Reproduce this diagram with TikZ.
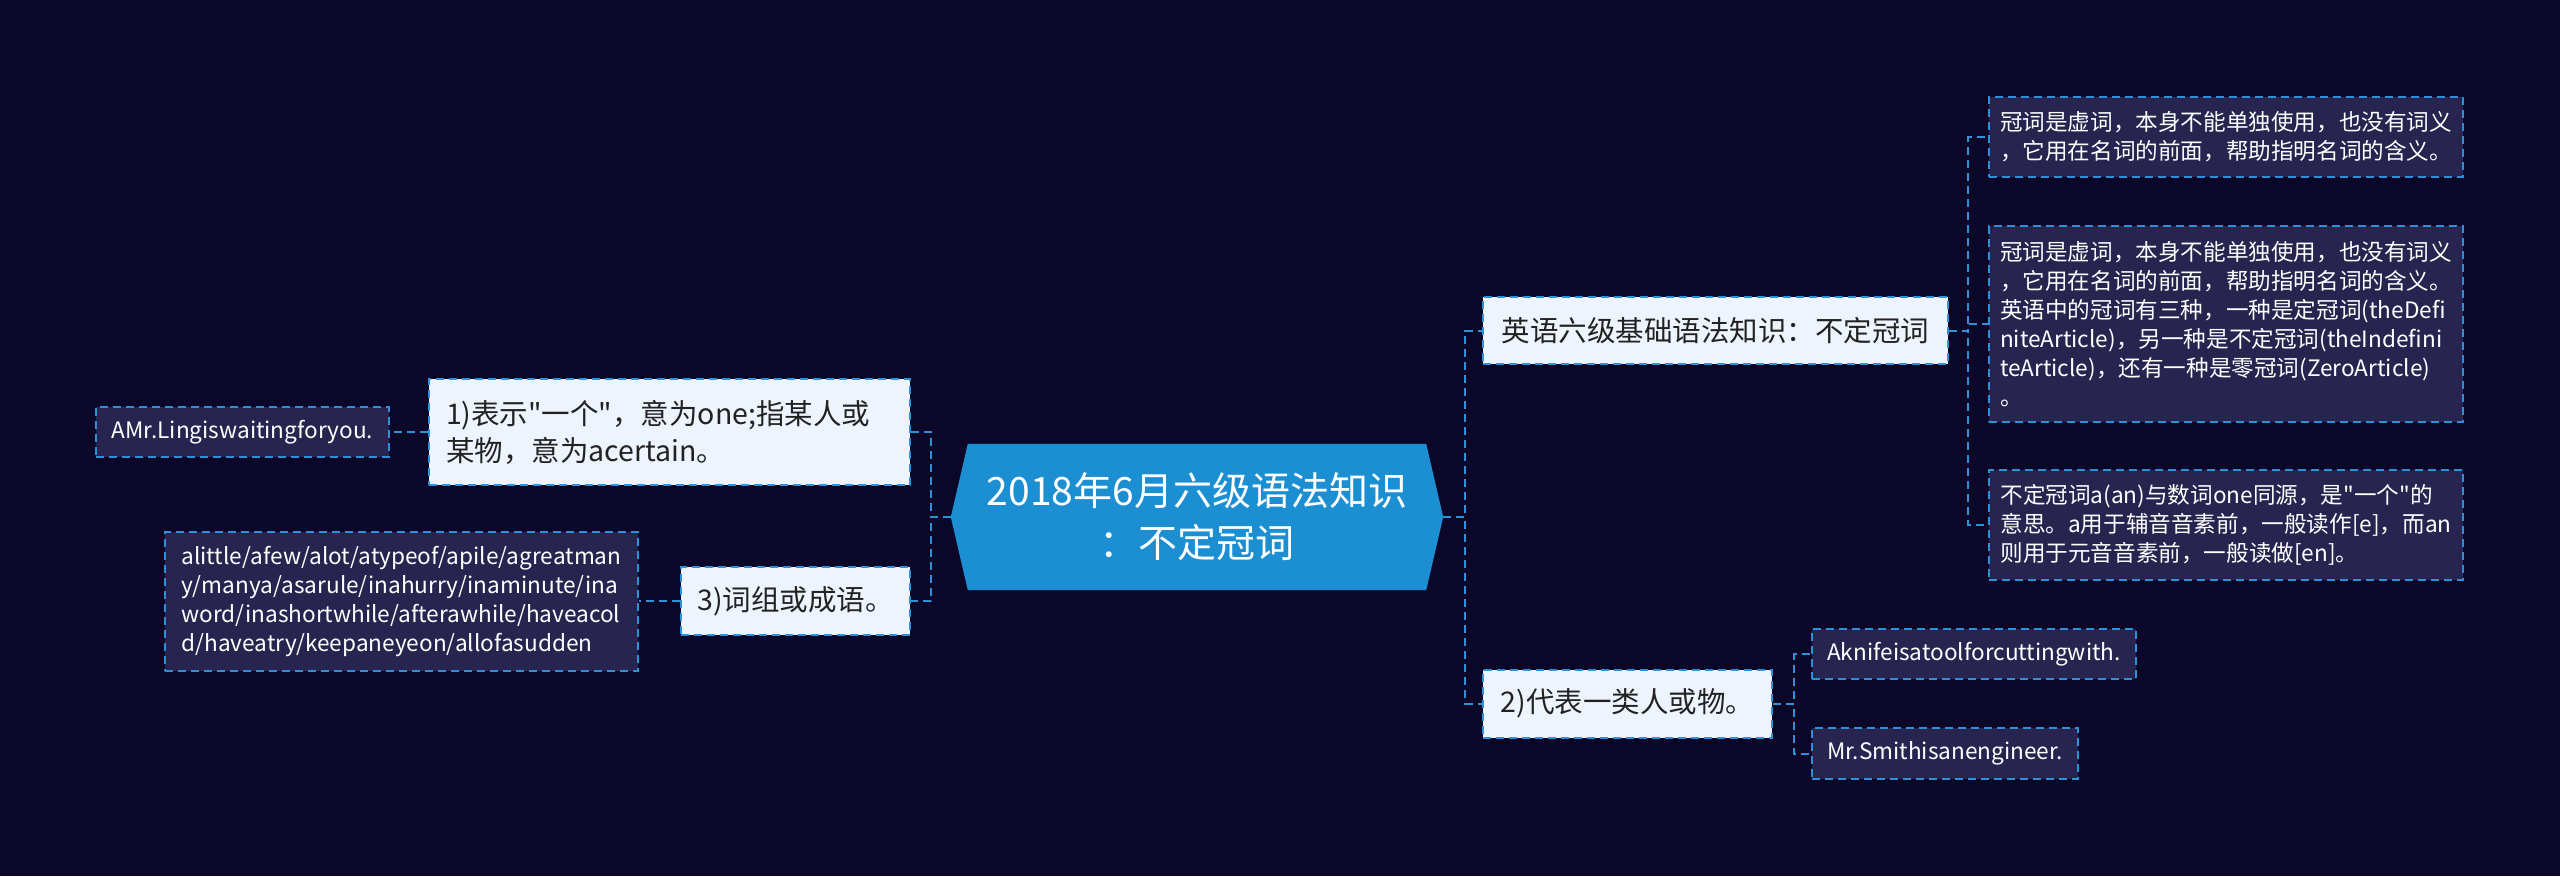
\documentclass[tikz,border=0pt]{standalone}
\usepackage{fontspec}
\setmainfont{Noto Sans CJK SC}[Ligatures=TeXOff]
\usetikzlibrary{backgrounds,calc}
\definecolor{bgc}{HTML}{0B0729}
\definecolor{cfill}{HTML}{1B8FD2}
\definecolor{lfill}{HTML}{EEF4FD}
\definecolor{dfill}{HTML}{272550}
\definecolor{bline}{HTML}{2E90D6}
\definecolor{dtext}{HTML}{222222}
\tikzset{
  conn/.style={draw=bline, line width=2pt, dash pattern=on 8pt off 5pt},
  lvl/.style={draw=bline, line width=2pt, dash pattern=on 8pt off 5pt, fill=lfill, text=dtext,
    font=\fontsize{28.5}{37}\selectfont, inner sep=0pt, align=left},
  leaf/.style={draw=bline, line width=2pt, dash pattern=on 8pt off 5pt, fill=dfill, text=white,
    font=\fontsize{22.6}{29}\selectfont, inner sep=0pt, align=left},
  topic/.style={text=white, font=\fontsize{39}{52}\selectfont, inner sep=0pt, align=center},
}
\begin{document}
\begin{tikzpicture}[x=1pt,y=-1pt]
\useasboundingbox (0,0) rectangle (2560,876);
% central
\node[topic, minimum width=492pt, minimum height=146pt] (c) at (1197,517) {2018年6月六级语法知识\\：不定冠词};
% level 1
\node[lvl, minimum width=465pt, minimum height=67pt] (e1) at (1715.5,330.5) {英语六级基础语法知识：不定冠词};
\node[lvl, minimum width=289pt, minimum height=68pt] (e2) at (1627.5,703.5) {2)代表一类人或物。};
\node[lvl, text width=447pt, inner xsep=17pt, minimum height=106pt] (l1) at (669.5,432) {1)表示"一个"，意为one;指某人或\\某物，意为acertain。};
\node[lvl, minimum width=229pt, minimum height=68pt] (l3) at (795.5,601) {3)词组或成语。};
% leaves
\node[leaf, minimum width=293pt, minimum height=50pt] (a1) at (242.5,432) {AMr.Lingiswaitingforyou.};
\node[leaf, minimum width=473pt, minimum height=139pt] (a3) at (401.5,601) {alittle/afew/alot/atypeof/apile/agreatman\\y/manya/asarule/inahurry/inaminute/ina\\word/inashortwhile/afterawhile/haveacol\\d/haveatry/keepaneyeon/allofasudden};
\node[leaf, minimum width=474pt, minimum height=80pt] (b1) at (2226,137) {冠词是虚词，本身不能单独使用，也没有词义\\，它用在名词的前面，帮助指明名词的含义。};
\node[leaf, minimum width=474pt, minimum height=196pt] (b2) at (2226,324) {冠词是虚词，本身不能单独使用，也没有词义\\，它用在名词的前面，帮助指明名词的含义。\\英语中的冠词有三种，一种是定冠词(theDefi\\niteArticle)，另一种是不定冠词(theIndefini\\teArticle)，还有一种是零冠词(ZeroArticle)\\。};
\node[leaf, minimum width=474pt, minimum height=110pt] (b3) at (2226,525) {不定冠词a(an)与数词one同源，是"一个"的\\意思。a用于辅音音素前，一般读作[e]，而an\\则用于元音音素前，一般读做[en]。};
\node[leaf, minimum width=324pt, minimum height=50pt] (k1) at (1974,654) {Aknifeisatoolforcuttingwith.};
\node[leaf, minimum width=266pt, minimum height=51pt] (k2) at (1945,753.5) {Mr.Smithisanengineer.};
% background and central shape
\begin{pgfonlayer}{background}
\fill[bgc] (0,0) rectangle (2560,876);
\fill[cfill] (c.west) -- ([xshift=17pt]c.north west) -- ([xshift=-17pt]c.north east) -- (c.east)
  -- ([xshift=-17pt]c.south east) -- ([xshift=17pt]c.south west) -- cycle;
\end{pgfonlayer}
% connectors
\draw[conn] (c.east) -- ++(22,0) |- (e1.west);
\draw[conn] (c.east) -- ++(22,0) |- (e2.west);
\draw[conn] (c.west) -- ++(-20,0) |- (l1.east);
\draw[conn] (c.west) -- ++(-20,0) |- (l3.east);
\draw[conn] (e1.east) -- ++(19,0) |- (b1.west);
\draw[conn] (e1.east) -- ++(19,0) |- (b2.west);
\draw[conn] (e1.east) -- ++(19,0) |- (b3.west);
\draw[conn] (e2.east) -- ++(21,0) |- (k1.west);
\draw[conn] (e2.east) -- ++(21,0) |- (k2.west);
\draw[conn] (l1.west) -- (a1.east);
\draw[conn] (l3.west) -- (a3.east);
\end{tikzpicture}
\end{document}
